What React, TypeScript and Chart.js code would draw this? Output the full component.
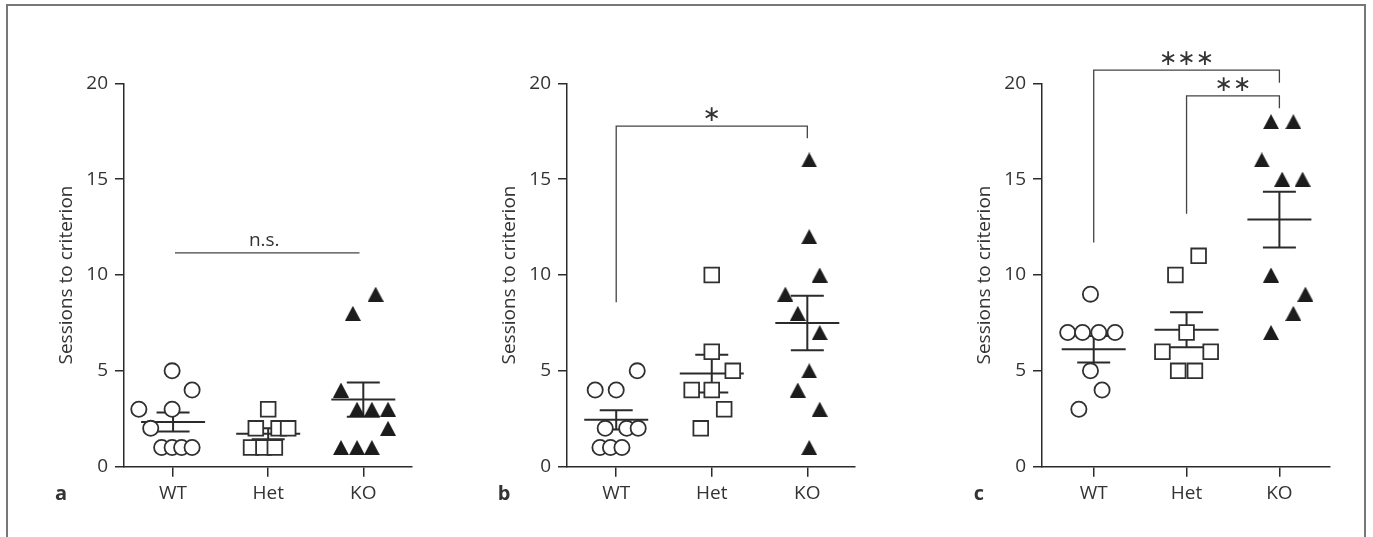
import { useEffect, useRef } from 'react';
import { Chart, registerables } from 'chart.js';

Chart.register(...registerables);

// ---------- data ----------
const categories = ['WT', 'Het', 'KO'];
const yTickValues = [0, 5, 10, 15, 20];
const yTitle = 'Sessions to criterion';

// Panel a
const aWT = [1, 1, 1, 1, 2, 3, 3, 4, 5];
const aWTJitter = [-0.12, -0.01, 0.09, 0.2, -0.235, -0.36, -0.01, 0.2, -0.01];
const aHet = [1, 1, 1, 2, 2, 2, 3];
const aHetJitter = [-0.18, -0.05, 0.07, -0.13, 0.11, 0.21, 0];
const aKO = [1, 1, 1, 2, 3, 3, 3, 4, 8, 9];
const aKOJitter = [-0.235, -0.066, 0.09, 0.26, -0.066, 0.09, 0.26, -0.235, -0.11, 0.13];

// Panel b
const bWT = [1, 1, 1, 2, 2, 2, 4, 4, 5];
const bWTJitter = [-0.17, -0.06, 0.06, -0.115, 0.11, 0.23, -0.22, 0, 0.22];
const bHet = [2, 3, 4, 4, 5, 6, 10];
const bHetJitter = [-0.115, 0.13, -0.21, 0, 0.22, 0, 0];
const bKO = [1, 3, 4, 5, 7, 8, 9, 10, 12, 16];
const bKOJitter = [0.02, 0.13, -0.1, 0.02, 0.13, -0.1, -0.23, 0.13, 0.02, 0.02];

// Panel c
const cWT = [3, 4, 5, 7, 7, 7, 7, 9];
const cWTJitter = [-0.16, 0.09, -0.035, -0.28, -0.12, 0.055, 0.23, -0.035];
const cHet = [5, 5, 6, 6, 7, 10, 11];
const cHetJitter = [-0.09, 0.09, -0.26, 0.26, 0, -0.12, 0.13];
const cKO = [7, 8, 9, 10, 15, 15, 16, 18, 18];
const cKOJitter = [-0.09, 0.15, 0.28, -0.09, 0.03, 0.25, -0.19, -0.09, 0.15];

// significance annotations: [fromGroup, toGroup, lineY, leftEndY, rightEndY, label]
const aBrackets: [number, number, number, number, number, string][] = [[0.02, 1.96, 11.15, 11.15, 11.15, 'n.s.']];
const bBrackets: [number, number, number, number, number, string][] = [[0, 2, 17.77, 8.58, 17.13, '∗']];
const cBrackets: [number, number, number, number, number, string][] = [
  [0, 2, 20.69, 11.69, 20.03, '∗∗∗'],
  [1, 2, 19.34, 13.2, 18.7, '∗∗'],
];

// ---------- styling / layout ----------
const TEXT = '#333';
const LINE = '#2b2b2b';
const FONT = '"Open Sans", "Noto Sans", sans-serif';
const FS = 19;
const H = 537;
const TOP = 83.3;
const BOTTOM = 466.7;

type PanelCfg = {
  letter: string;
  axisX: number;
  axisEnd: number;
  xMin: number;
  xMax: number;
  groups: { values: number[]; jitter: number[] }[];
  brackets: [number, number, number, number, number, string][];
};

const panels: PanelCfg[] = [
  {
    letter: 'a', axisX: 124, axisEnd: 412, xMin: -0.516, xMax: 2.512,
    groups: [{ values: aWT, jitter: aWTJitter }, { values: aHet, jitter: aHetJitter }, { values: aKO, jitter: aKOJitter }],
    brackets: aBrackets,
  },
  {
    letter: 'b', axisX: 567, axisEnd: 855, xMin: -0.515, xMax: 2.499,
    groups: [{ values: bWT, jitter: bWTJitter }, { values: bHet, jitter: bHetJitter }, { values: bKO, jitter: bKOJitter }],
    brackets: bBrackets,
  },
  {
    letter: 'c', axisX: 1042, axisEnd: 1330, xMin: -0.557, xMax: 2.545,
    groups: [{ values: cWT, jitter: cWTJitter }, { values: cHet, jitter: cHetJitter }, { values: cKO, jitter: cKOJitter }],
    brackets: cBrackets,
  },
];

function meanSem(v: number[]) {
  const n = v.length;
  const m = v.reduce((a, b) => a + b, 0) / n;
  const sd = Math.sqrt(v.reduce((a, b) => a + (b - m) * (b - m), 0) / (n - 1));
  return { m, sem: sd / Math.sqrt(n) };
}

function makeTriangle() {
  const c = document.createElement('canvas');
  c.width = 16;
  c.height = 15;
  const g = c.getContext('2d')!;
  g.fillStyle = '#1c1c1c';
  g.beginPath();
  g.moveTo(8, 0);
  g.lineTo(16, 15);
  g.lineTo(0, 15);
  g.closePath();
  g.fill();
  return c;
}

function drawCenteredText(ctx: CanvasRenderingContext2D, text: string, x: number, cy: number) {
  const m = ctx.measureText(text);
  const asc = m.actualBoundingBoxAscent;
  const desc = m.actualBoundingBoxDescent;
  ctx.textAlign = 'center';
  ctx.textBaseline = 'alphabetic';
  ctx.fillText(text, x, cy + (asc - desc) / 2);
}

function Panel({ cfg }: { cfg: PanelCfg }) {
  const ref = useRef<HTMLCanvasElement>(null);
  const left = cfg.axisX - 100;
  const padRight = 35;
  const width = cfg.axisEnd + padRight - left;

  useEffect(() => {
    const tri = makeTriangle();
    const styles: any[] = ['circle', 'rect', tri];
    const radii = [7.6, 10.4, 8];
    const fills = ['#fff', '#fff', '#1c1c1c'];
    const datasets = cfg.groups.map((g, gi) => ({
      label: categories[gi],
      data: g.values.map((v, i) => ({ x: gi + g.jitter[i], y: v })),
      pointStyle: styles[gi],
      pointRadius: radii[gi],
      pointHoverRadius: radii[gi],
      backgroundColor: fills[gi],
      borderColor: '#303030',
      borderWidth: gi === 2 ? 0 : 1.8,
      showLine: false,
    }));

    const errPlugin = {
      id: 'errbars',
      beforeDatasetsDraw(chart: any) {
        const { ctx, scales } = chart;
        const xs = scales.x;
        const ys = scales.y;
        ctx.save();
        ctx.strokeStyle = LINE;
        ctx.lineWidth = 2;
        cfg.groups.forEach((g, gi) => {
          const { m, sem } = meanSem(g.values);
          const px = xs.getPixelForValue(gi);
          const pm = ys.getPixelForValue(m);
          const pt = ys.getPixelForValue(m + sem);
          const pb = ys.getPixelForValue(m - sem);
          ctx.beginPath();
          ctx.moveTo(px - 32, pm);
          ctx.lineTo(px + 32, pm);
          ctx.moveTo(px, pt);
          ctx.lineTo(px, pb);
          ctx.moveTo(px - 16.5, pt);
          ctx.lineTo(px + 16.5, pt);
          ctx.moveTo(px - 16.5, pb);
          ctx.lineTo(px + 16.5, pb);
          ctx.stroke();
        });
        ctx.restore();
      },
    };

    const annPlugin = {
      id: 'annot',
      afterDraw(chart: any) {
        const { ctx, scales } = chart;
        const xs = scales.x;
        const ys = scales.y;
        ctx.save();
        ctx.strokeStyle = '#444';
        ctx.lineWidth = 1.3;
        ctx.fillStyle = TEXT;
        cfg.brackets.forEach(([a, b, yv, ly, ry, label]) => {
          const x1 = xs.getPixelForValue(a);
          const x2 = xs.getPixelForValue(b);
          const y = ys.getPixelForValue(yv);
          ctx.beginPath();
          ctx.moveTo(x1, ys.getPixelForValue(ly));
          ctx.lineTo(x1, y);
          ctx.lineTo(x2, y);
          ctx.lineTo(x2, ys.getPixelForValue(ry));
          ctx.stroke();
          const isStar = label.indexOf('∗') >= 0;
          ctx.font = isStar ? '22px "DejaVu Sans", sans-serif' : FS + 'px ' + FONT;
          drawCenteredText(ctx, label, (x1 + x2) / 2 + (isStar ? 0 : -3), y - 12);
        });
        // panel letter
        ctx.font = 'bold 20px ' + FONT;
        ctx.textAlign = 'center';
        ctx.textBaseline = 'alphabetic';
        ctx.fillText(cfg.letter, 37, 500);
        ctx.restore();
      },
    };

    const chart = new Chart(ref.current!, {
      type: 'scatter',
      data: { datasets },
      plugins: [errPlugin, annPlugin],
      options: {
        responsive: false,
        animation: false,
        events: [],
        layout: { padding: { top: TOP, right: padRight, left: 0, bottom: 0 } },
        plugins: { legend: { display: false }, tooltip: { enabled: false }, title: { display: false } },
        scales: {
          x: {
            type: 'linear',
            min: cfg.xMin,
            max: cfg.xMax,
            afterBuildTicks: (s: any) => {
              s.ticks = categories.map((_, i) => ({ value: i }));
            },
            afterFit: (s: any) => {
              s.height = H - BOTTOM;
            },
            ticks: {
              autoSkip: false,
              maxRotation: 0,
              padding: 5,
              color: TEXT,
              font: { family: FONT, size: FS },
              callback: (v: any) => categories[Math.round(Number(v))],
            },
            grid: { drawOnChartArea: false, drawTicks: true, tickLength: 10, color: LINE, lineWidth: 1.5 },
            border: { display: true, color: LINE, width: 1.5 },
          },
          y: {
            type: 'linear',
            min: 0,
            max: 20,
            afterBuildTicks: (s: any) => {
              s.ticks = yTickValues.map((v) => ({ value: v }));
            },
            afterFit: (s: any) => {
              s.width = 100;
            },
            ticks: { padding: 7, color: TEXT, font: { family: FONT, size: FS } },
            grid: { drawOnChartArea: false, drawTicks: true, tickLength: 9, color: LINE, lineWidth: 1.5 },
            border: { display: true, color: LINE, width: 1.5 },
            title: {
              display: true,
              text: yTitle,
              color: TEXT,
              font: { family: FONT, size: FS },
              padding: { top: 31.6, bottom: 0 },
            },
          },
        },
      } as any,
    });
    return () => chart.destroy();
  }, []);

  return (
    <canvas
      ref={ref}
      width={width}
      height={H}
      style={{ position: 'absolute', left, top: 0, width, height: H, display: 'block' }}
    />
  );
}

export default function App() {
  return (
    <div style={{ position: 'absolute', left: 0, top: 0, width: 1373, height: 537, overflow: 'hidden', background: '#fff' }}>
      <div
        style={{
          position: 'absolute',
          left: 6,
          top: 4,
          width: 1356,
          height: 620,
          border: '2px solid #777',
        }}
      />
      {panels.map((p) => (
        <Panel key={p.letter} cfg={p} />
      ))}
    </div>
  );
}
